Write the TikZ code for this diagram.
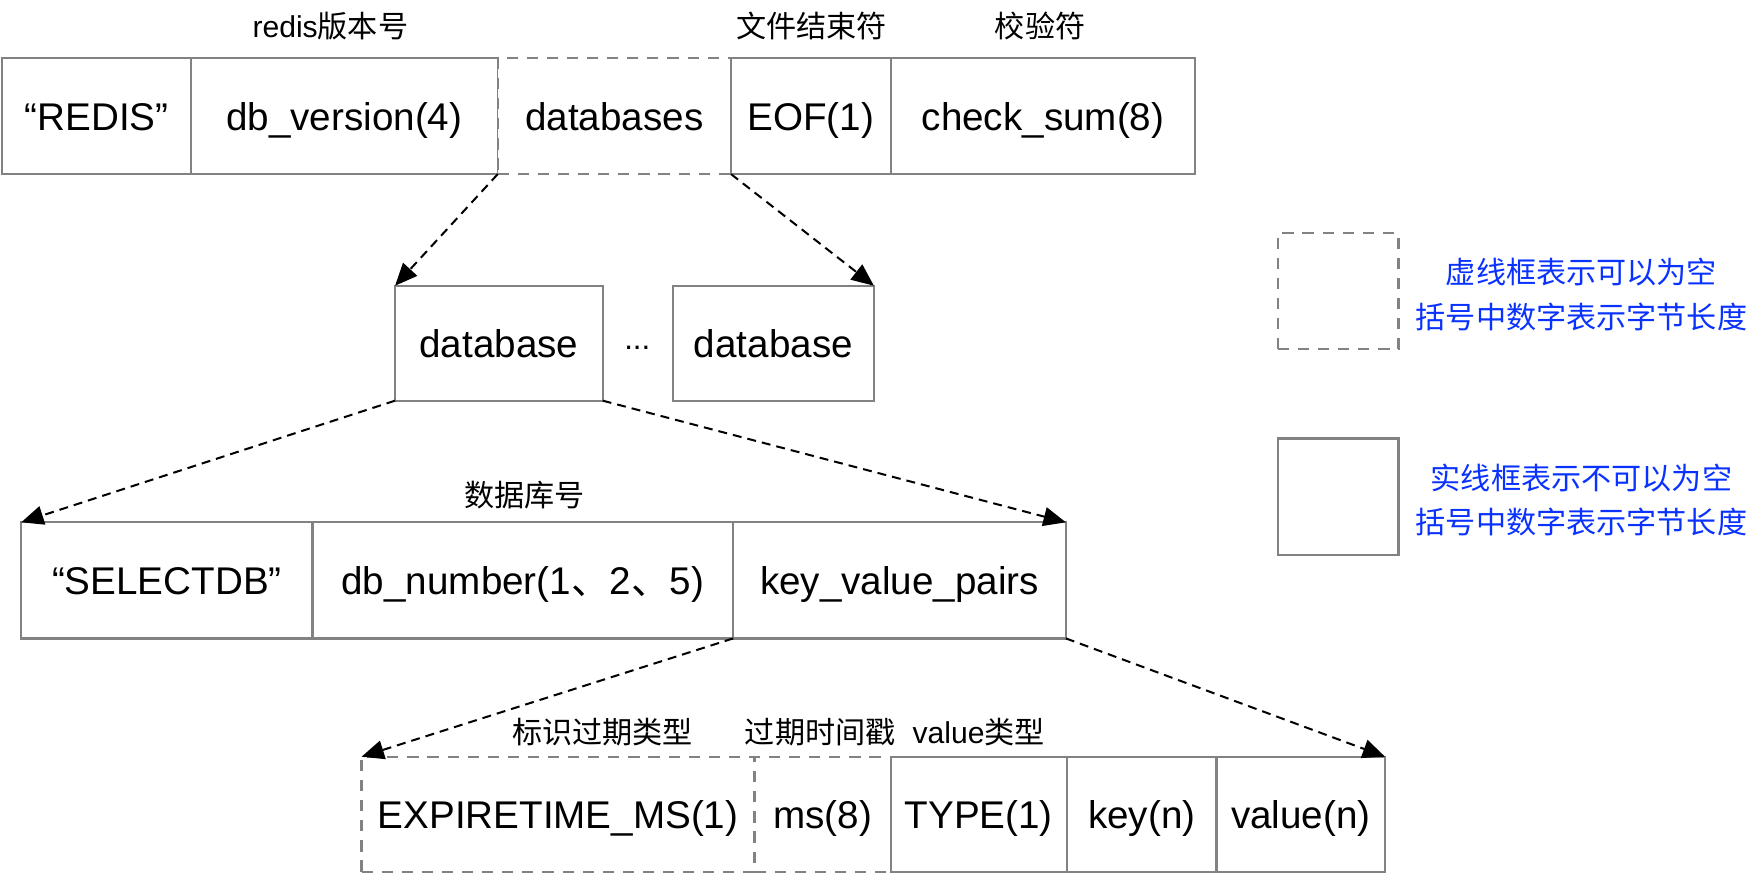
\documentclass[tikz,border=0pt]{standalone}
\usepackage{fontspec}
\setmainfont{Liberation Sans}
\newfontfamily\cjk{Noto Sans CJK SC}
\usetikzlibrary{arrows.meta}
\definecolor{boxgray}{RGB}{130,130,130}
\definecolor{noteblue}{RGB}{10,50,255}
\begin{document}
\begin{tikzpicture}[x=0.5pt,y=-0.5pt,
  box/.style={draw=boxgray, line width=1pt, fill=white, inner sep=0pt, outer sep=0pt, anchor=north west, font=\fontsize{17.3}{20}\selectfont, text height=12.8pt, text depth=0pt},
  dbox/.style={box, dash pattern=on 5pt off 4pt},
  lbl/.style={font=\fontsize{13.5}{15}\selectfont, inner sep=0pt},
  arr/.style={-{Triangle[length=10pt,width=8.5pt]}, line width=0.9pt, dash pattern=on 4pt off 2.7pt},
  note/.style={text=noteblue, font=\cjk\fontsize{13.5}{20}\selectfont, align=center, inner sep=0pt}]
\useasboundingbox (0,0) rectangle (1568,785);

% top row
\node[box, minimum width=84.5pt, minimum height=52pt] (redis) at (2,52) {“REDIS”};
\node[box, minimum width=137.5pt, minimum height=52pt] (ver) at (171,52) {db\_version(4)};
\node[dbox, minimum width=104.5pt, minimum height=52pt] (dbs) at (446,52) {databases};
\node[box, minimum width=71.5pt, minimum height=52pt] (eof) at (655,52) {EOF(1)};
\node[box, minimum width=136.5pt, minimum height=52pt] (sum) at (798,52) {check\_sum(8)};
\node[lbl] (l1) at (296,23) {redis{\cjk 版本号}};
\node[lbl] (l2) at (727,23) {\cjk 文件结束符};
\node[lbl] (l3) at (932,23) {\cjk 校验符};

% databases
\node[box, minimum width=93pt, minimum height=51.5pt] (db1) at (354,256) {database};
\node[box, minimum width=90pt, minimum height=51.5pt] (db2) at (603,256) {database};
\node[font=\fontsize{14}{16}\selectfont, inner sep=0pt] (dots) at (571,312) {...};

% second row
\node[box, minimum width=130.5pt, minimum height=52pt] (sel) at (19,468) {“SELECTDB”};
\node[box, minimum width=188.5pt, minimum height=52pt] (num) at (280,468) {db\_number(1{\cjk 、}2{\cjk 、}5)};
\node[box, minimum width=149pt, minimum height=52pt] (kvp) at (657,468) {key\_value\_pairs};
\node[lbl] (l4) at (470,444) {\cjk 数据库号};

% third row
\node[dbox, minimum width=176pt, minimum height=51.5pt] (exp) at (324,678) {EXPIRETIME\_MS(1)};
\node[dbox, minimum width=61pt, minimum height=51.5pt] (ms) at (676,678) {ms(8)};
\node[box, minimum width=79pt, minimum height=51.5pt] (type) at (798,678) {TYPE(1)};
\node[box, minimum width=67pt, minimum height=51.5pt] (key) at (956,678) {key(n)};
\node[box, minimum width=75.5pt, minimum height=51.5pt] (val) at (1090,678) {value(n)};
\node[lbl] (l5) at (540,656) {\cjk 标识过期类型};
\node[lbl] (l6) at (735,656) {\cjk 过期时间戳};
\node[lbl] (l7) at (877,656) {value{\cjk 类型}};

% arrows
\draw[arr] (dbs.south west) -- (db1.north west);
\draw[arr] (dbs.south east) -- (db2.north east);
\draw[arr] (db1.south west) -- (sel.north west);
\draw[arr] (db1.south east) -- (kvp.north east);
\draw[arr] (kvp.south west) -- (exp.north west);
\draw[arr] (kvp.south east) -- (val.north east);

% legend
\node[dbox, minimum width=54pt, minimum height=52pt] (leg1) at (1145,209) {};
\node[box, minimum width=54pt, minimum height=52pt] (leg2) at (1145,393) {};
\node[note] (n1) at (1417,264) {虚线框表示可以为空\\括号中数字表示字节长度};
\node[note] (n2) at (1417,448) {实线框表示不可以为空\\括号中数字表示字节长度};
\end{tikzpicture}
\end{document}
